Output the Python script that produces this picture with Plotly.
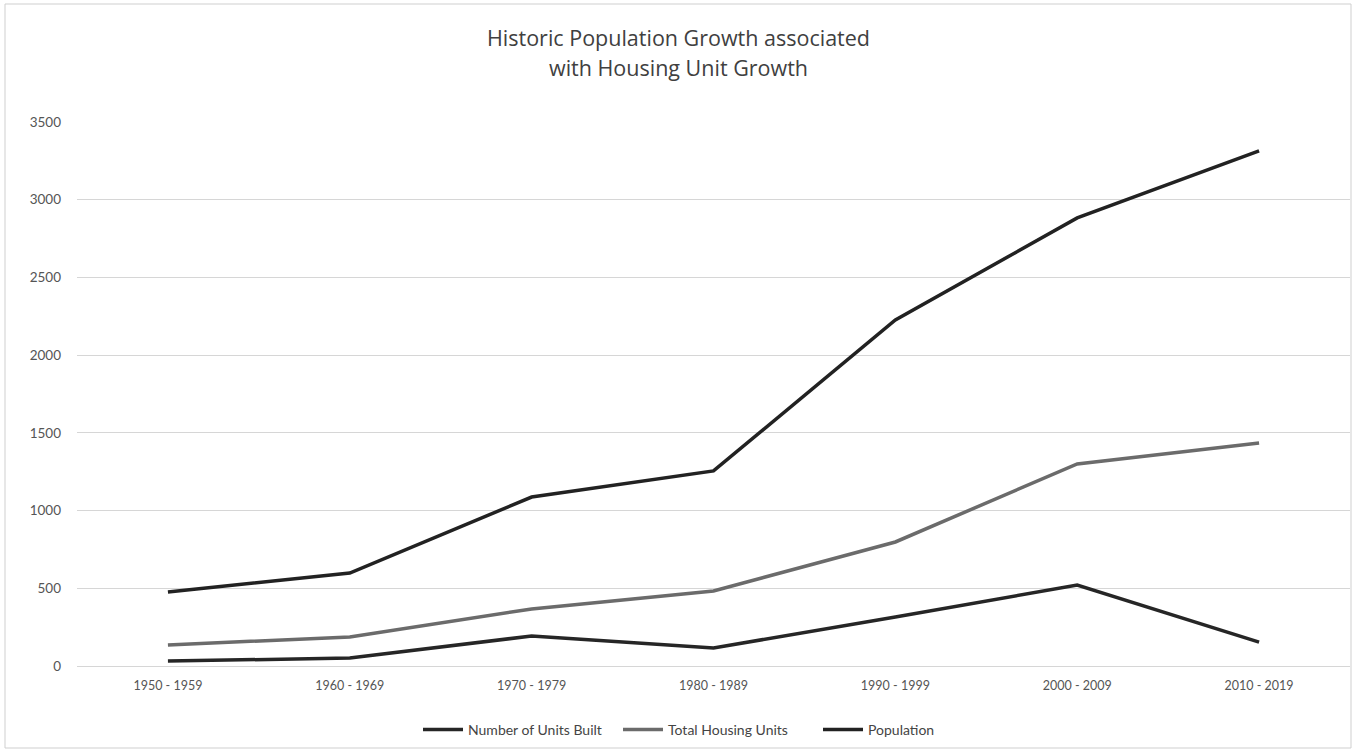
import plotly.graph_objects as go

categories = ["1950 - 1959", "1960 - 1969", "1970 - 1979", "1980 - 1989",
              "1990 - 1999", "2000 - 2009", "2010 - 2019"]
units_built = [32, 51, 193, 116, 315, 521, 154]
total_housing = [135, 187, 367, 483, 798, 1300, 1435]
population = [476, 598, 1087, 1255, 2226, 2883, 3314]
title_lines = ["Historic Population Growth associated", "with Housing Unit Growth"]

W, H = 1357, 753
ML, MR, MT, MB = 77, 7, 122, 87

fig = go.Figure()
fig.add_trace(go.Scatter(x=categories, y=units_built, mode="lines",
                         name="Number of Units Built",
                         line=dict(color="#262626", width=3.5)))
fig.add_trace(go.Scatter(x=categories, y=total_housing, mode="lines",
                         name="Total Housing Units",
                         line=dict(color="#6b6b6b", width=3.5)))
fig.add_trace(go.Scatter(x=categories, y=population, mode="lines",
                         name="Population",
                         line=dict(color="#222222", width=3.5)))

pw = W - ML - MR
ph = H - MT - MB
fig.add_shape(type="rect", xref="paper", yref="paper",
              x0=(5 - ML) / pw, x1=(1351 - ML) / pw,
              y0=-(748 - MT - ph) / ph, y1=1 + (MT - 4) / ph,
              line=dict(color="#cfcfcf", width=1), layer="below")

for i, (txt, ypx) in enumerate(zip(title_lines, [37, 68])):
    fig.add_annotation(text=txt, xref="paper", yref="paper",
                       x=(678 - ML) / pw, y=1 + (MT - ypx) / ph,
                       xanchor="center", yanchor="middle", showarrow=False,
                       font=dict(size=21.5, color="#404040",
                                 family="Open Sans, Lato, sans-serif"))

fig.update_layout(
    width=W, height=H,
    margin=dict(l=ML, r=MR, t=MT, b=MB),
    paper_bgcolor="white", plot_bgcolor="white",
    font=dict(family="Lato, Noto Sans, sans-serif", color="#555555", size=12),
    showlegend=True,
    legend=dict(orientation="h", x=418 / W, xref="container", xanchor="left",
                y=1 - 730 / H, yref="container", yanchor="middle",
                font=dict(size=14, color="#444444"), itemwidth=40,
                traceorder="normal", entrywidth=145, entrywidthmode="pixels"),
    xaxis=dict(type="category", range=[-0.5, 6.5], showgrid=False,
               showline=False, ticks="", tickfont=dict(size=12.5, color="#555555"),
               ticklabelstandoff=10),
    yaxis=dict(range=[0, 3500], dtick=500, showgrid=True, gridcolor="#d6d6d6",
               gridwidth=1, zeroline=True, zerolinecolor="#d6d6d6", zerolinewidth=1,
               showline=False, ticks="", tickfont=dict(size=13.5, color="#555555"),
               ticklabelstandoff=15),
)

fig.write_html("out.html")
